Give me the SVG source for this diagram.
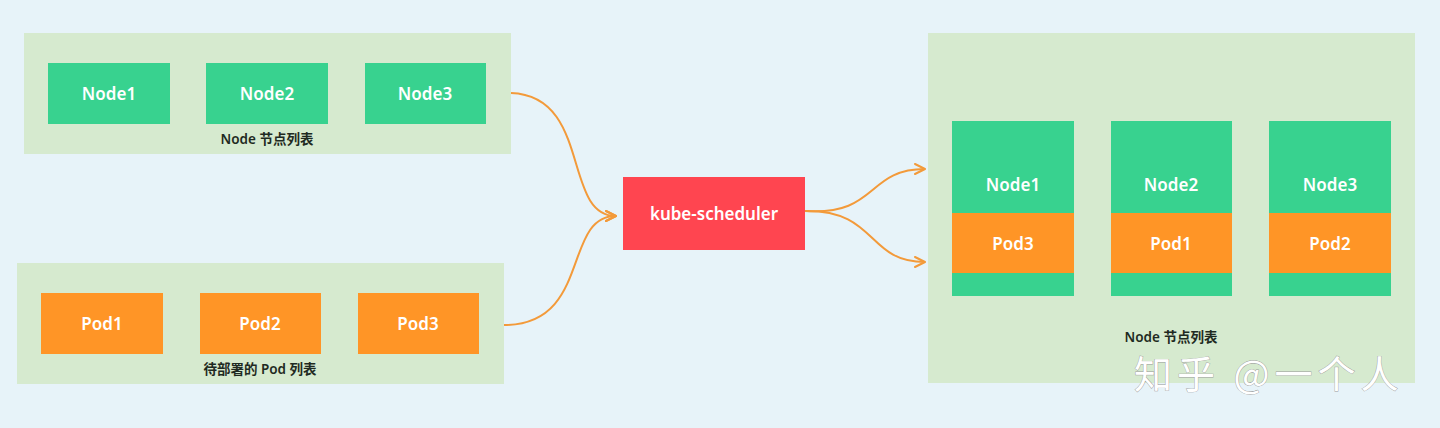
<svg xmlns="http://www.w3.org/2000/svg" width="1440" height="428" viewBox="0 0 1440 428">
<defs>
<style>
.bg{fill:#E7F3F9}
.box{fill:#D6EACF}
.node{fill:#38D28F}
.pod{fill:#FF9526}
.sch{fill:#FF4550}
.t{font-family:"Noto Sans","Noto Sans CJK SC",sans-serif;font-size:17px;font-weight:600;fill:#fff;text-anchor:middle;dominant-baseline:central}
.lbl{font-family:"Noto Sans","Noto Sans CJK SC",sans-serif;font-size:13.5px;font-weight:600;fill:#1f2a22;text-anchor:middle;dominant-baseline:central}
.c{fill:none;stroke:#F39A3A;stroke-width:2}
.wm{font-family:"Noto Sans CJK SC",sans-serif;font-size:38px;letter-spacing:5px;fill:#fff;stroke:#9a9a9a;stroke-width:0.8;paint-order:stroke}
</style>
<marker id="ah" viewBox="0 0 12 12" refX="11" refY="6" markerWidth="12" markerHeight="12" markerUnits="userSpaceOnUse" orient="auto">
<path d="M1 1 L11 6 L1 11" fill="none" stroke="#F39A3A" stroke-width="2" stroke-linecap="round" stroke-linejoin="round"/>
</marker>
</defs>
<rect class="bg" x="0" y="0" width="1440" height="428"/>

<g id="node-list-top">
<rect class="box" x="24" y="33" width="487" height="121"/>
<text class="lbl" x="267" y="139">Node 节点列表</text>
</g>
<g id="node1-top"><rect class="node" x="48" y="63" width="122" height="61"/><text class="t" x="109" y="93">Node1</text></g>
<g id="node2-top"><rect class="node" x="206" y="63" width="122" height="61"/><text class="t" x="267" y="93">Node2</text></g>
<g id="node3-top"><rect class="node" x="365" y="63" width="121" height="61"/><text class="t" x="425" y="93">Node3</text></g>

<g id="pod-list">
<rect class="box" x="17" y="263" width="487" height="121"/>
<text class="lbl" x="260" y="369">待部署的 Pod 列表</text>
</g>
<g id="pod1"><rect class="pod" x="41" y="293" width="122" height="61"/><text class="t" x="102" y="323">Pod1</text></g>
<g id="pod2"><rect class="pod" x="200" y="293" width="121" height="61"/><text class="t" x="260" y="323">Pod2</text></g>
<g id="pod3"><rect class="pod" x="358" y="293" width="121" height="61"/><text class="t" x="418" y="323">Pod3</text></g>

<g id="kube-scheduler">
<rect class="sch" x="623" y="177" width="182" height="73"/>
<text class="t" x="714" y="213">kube-scheduler</text>
</g>

<g id="node-list-right">
<rect class="box" x="928" y="33" width="487" height="350"/>
<text class="lbl" x="1171" y="337">Node 节点列表</text>
</g>
<g id="col1">
<rect class="node" x="952" y="121" width="122" height="175"/>
<rect class="pod" x="952" y="213" width="122" height="60"/>
<text class="t" x="1013" y="184">Node1</text>
<text class="t" x="1013" y="243">Pod3</text>
</g>
<g id="col2">
<rect class="node" x="1111" y="121" width="121" height="175"/>
<rect class="pod" x="1111" y="213" width="121" height="60"/>
<text class="t" x="1171" y="184">Node2</text>
<text class="t" x="1171" y="243">Pod1</text>
</g>
<g id="col3">
<rect class="node" x="1269" y="121" width="122" height="175"/>
<rect class="pod" x="1269" y="213" width="122" height="60"/>
<text class="t" x="1330" y="184">Node3</text>
<text class="t" x="1330" y="243">Pod2</text>
</g>

<g id="connectors">
<path class="c" d="M511 93 C592 96, 562 216, 616 216" marker-end="url(#ah)"/>
<path class="c" d="M504 325 C592 325, 562 216, 616 216" marker-end="url(#ah)"/>
<path class="c" d="M805 211 C878 216, 866 169, 925 169" marker-end="url(#ah)"/>
<path class="c" d="M805 211 C878 210, 866 262, 925 262" marker-end="url(#ah)"/>
</g>

<text class="wm" x="1134" y="388">知乎 @一个人</text>
</svg>
